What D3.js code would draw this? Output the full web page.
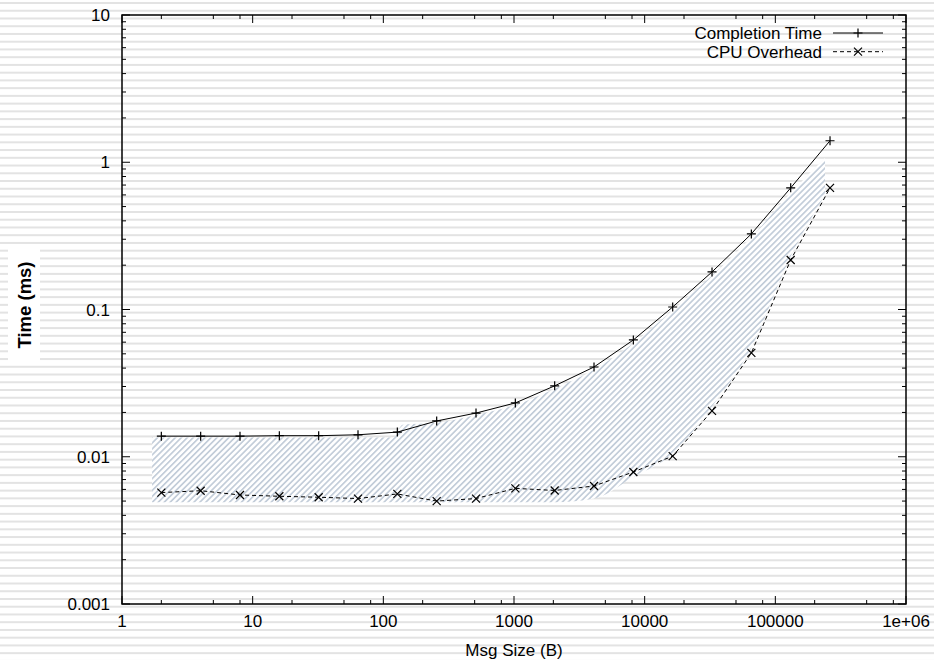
<!DOCTYPE html>
<html><head><meta charset="utf-8">
<script src="https://cdn.jsdelivr.net/npm/d3@7"></script>
<style>body{margin:0;background:#fff}svg{display:block}text{font-family:"Liberation Sans",Arial,sans-serif}</style>
</head><body>
<script>
const msgSizes = [2,4,8,16,32,64,128,256,512,1024,2048,4096,8192,16384,32768,65536,131072,262144];
const completionTime = [0.0138,0.0138,0.0138,0.0139,0.0139,0.0141,0.0147,0.0175,0.0198,0.0232,0.0303,0.0407,0.0621,0.104,0.180,0.326,0.67,1.40];
const cpuOverhead = [0.00571,0.00588,0.0055,0.00539,0.00531,0.0052,0.00559,0.0050,0.0052,0.0061,0.0059,0.00633,0.00788,0.0101,0.0205,0.0507,0.217,0.67];
// hatched band
const bandX = [1.7,120,140,256,512,1024,2048,4096,8192,16384,32768,65536,131072,240000];
const bandTop = [0.0135,0.0135,0.0165,0.0170,0.0192,0.0225,0.029,0.039,0.059,0.099,0.17,0.31,0.62,1.07];
const bandBottom = [0.0049,0.0049,0.0049,0.0049,0.0049,0.0049,0.0049,0.0052,0.0073,0.0105,0.022,0.055,0.23,0.6];
const xTickValues = [1,10,100,1000,10000,100000,1000000];
const xTickLabels = ["1","10","100","1000","10000","100000","1e+06"];
const yTickValues = [0.001,0.01,0.1,1,10];
const yTickLabels = ["0.001","0.01","0.1","1","10"];
const seriesNames = ["Completion Time","CPU Overhead"];

const W=934,H=660;
const L=122,R=906,T=15,B=604;
const svg=d3.select("body").append("svg").attr("width",W).attr("height",H);
const x=d3.scaleLog().domain([1,1e6]).range([L,R]);
const y=d3.scaleLog().domain([0.001,10]).range([B,T]);

// striped background
svg.append("rect").attr("width",W).attr("height",H).attr("fill","#fff");
const stripes=d3.range(0,86).map(i=>2+i*7.74);
svg.append("g").selectAll("rect").data(stripes).join("rect")
  .attr("x",0).attr("y",d=>d).attr("width",W).attr("height",2).attr("fill","#e3e3e3");

// white box behind y label
svg.append("rect").attr("x",8).attr("y",247).attr("width",32).attr("height",116).attr("fill","#fff");

// hatch pattern
const defs=svg.append("defs");
const pat=defs.append("pattern").attr("id","hatch").attr("patternUnits","userSpaceOnUse")
  .attr("width",4.2).attr("height",4.2).attr("patternTransform","rotate(45)");
pat.append("rect").attr("width",4.2).attr("height",4.2).attr("fill","#fff");
pat.append("rect").attr("width",1.7).attr("height",4.2).attr("fill","#c3cdd9");

const band=bandX.map((v,i)=>({x:v,t:bandTop[i],b:bandBottom[i]}));
svg.append("path").datum(band)
  .attr("d",d3.area().x(d=>x(d.x)).y0(d=>y(d.b)).y1(d=>y(d.t)).curve(d3.curveMonotoneX))
  .attr("fill","url(#hatch)");

// frame
const g=svg.append("g").attr("stroke","#000").attr("fill","none");
g.append("rect").attr("x",L).attr("y",T).attr("width",R-L).attr("height",B-T).attr("stroke-width",1.5);

// x ticks
const xMinor=[];
for(let e=0;e<6;e++){[2,5,8].forEach(m=>xMinor.push(m*Math.pow(10,e)));}
xTickValues.forEach(v=>{
  g.append("line").attr("x1",x(v)).attr("x2",x(v)).attr("y1",B).attr("y2",B-8);
  g.append("line").attr("x1",x(v)).attr("x2",x(v)).attr("y1",T).attr("y2",T+8);
});
xMinor.forEach(v=>{
  g.append("line").attr("x1",x(v)).attr("x2",x(v)).attr("y1",B).attr("y2",B-4);
  g.append("line").attr("x1",x(v)).attr("x2",x(v)).attr("y1",T).attr("y2",T+4);
});
// y ticks
const yMinor=[];
for(let e=-3;e<1;e++){for(let m=2;m<=9;m++) yMinor.push(m*Math.pow(10,e));}
yTickValues.forEach(v=>{
  g.append("line").attr("y1",y(v)).attr("y2",y(v)).attr("x1",L).attr("x2",L+8);
  g.append("line").attr("y1",y(v)).attr("y2",y(v)).attr("x1",R).attr("x2",R-8);
});
yMinor.forEach(v=>{
  g.append("line").attr("y1",y(v)).attr("y2",y(v)).attr("x1",L).attr("x2",L+4);
  g.append("line").attr("y1",y(v)).attr("y2",y(v)).attr("x1",R).attr("x2",R-4);
});

// tick labels
svg.append("g").selectAll("text").data(xTickValues).join("text")
  .attr("x",d=>x(d)).attr("y",B+23).attr("text-anchor","middle").attr("font-size",17)
  .text((d,i)=>xTickLabels[i]);
svg.append("g").selectAll("text").data(yTickValues).join("text")
  .attr("x",L-12).attr("y",d=>y(d)+6).attr("text-anchor","end").attr("font-size",17)
  .text((d,i)=>yTickLabels[i]);

// axis labels
svg.append("text").attr("x",514).attr("y",656).attr("text-anchor","middle").attr("font-size",17).text("Msg Size (B)");
svg.append("text").attr("transform","translate(31,305) rotate(-90)").attr("text-anchor","middle")
  .attr("font-size",18.5).attr("font-weight","bold").text("Time (ms)");

// lines
const line=d3.line().x(d=>x(d[0])).y(d=>y(d[1]));
const ct=msgSizes.map((v,i)=>[v,completionTime[i]]);
const cpu=msgSizes.map((v,i)=>[v,cpuOverhead[i]]);
svg.append("path").datum(ct).attr("d",line).attr("fill","none").attr("stroke","#000").attr("stroke-width",1);
svg.append("path").datum(cpu).attr("d",line).attr("fill","none").attr("stroke","#000").attr("stroke-width",1).attr("stroke-dasharray","4,3");

function plus(sel,cx,cy,s){sel.append("path").attr("d",`M${cx-s},${cy}H${cx+s}M${cx},${cy-s}V${cy+s}`).attr("stroke","#000").attr("stroke-width",1.2).attr("fill","none");}
function cross(sel,cx,cy,s){sel.append("path").attr("d",`M${cx-s},${cy-s}L${cx+s},${cy+s}M${cx-s},${cy+s}L${cx+s},${cy-s}`).attr("stroke","#000").attr("stroke-width",1.2).attr("fill","none");}
const mk=svg.append("g");
ct.forEach(d=>plus(mk,x(d[0]),y(d[1]),4.5));
cpu.forEach(d=>cross(mk,x(d[0]),y(d[1]),4));

// legend
const lg=svg.append("g");
[33,51.7].forEach((ly,i)=>{
  lg.append("text").attr("x",822).attr("y",ly+6).attr("text-anchor","end").attr("font-size",17).text(seriesNames[i]);
  lg.append("line").attr("x1",833).attr("x2",883).attr("y1",ly).attr("y2",ly).attr("stroke","#000")
    .attr("stroke-width",1).attr("stroke-dasharray",i?"4,3":null);
  if(i) cross(lg,858,ly,4); else plus(lg,858,ly,4.5);
});
</script>
</body></html>
